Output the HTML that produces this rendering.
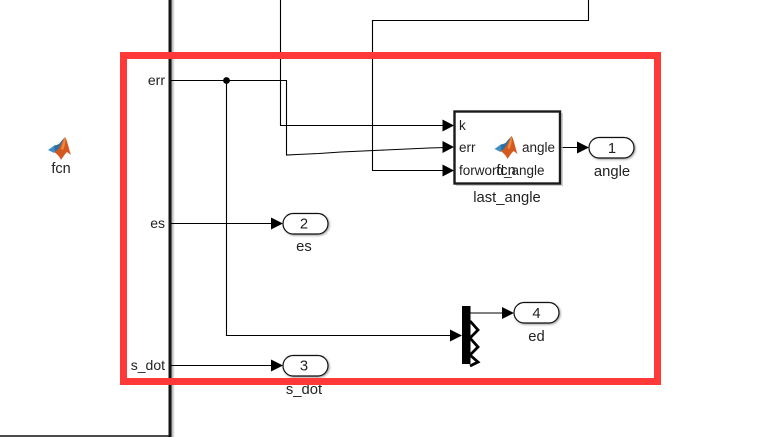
<!DOCTYPE html>
<html>
<head>
<meta charset="utf-8">
<style>
html,body{margin:0;padding:0;background:#fff;width:775px;height:437px;overflow:hidden}
svg{display:block}
text{font-family:"Liberation Sans",sans-serif;font-size:13.5px;fill:#222}
</style>
</head>
<body>
<svg width="775" height="437" viewBox="0 0 775 437" xmlns="http://www.w3.org/2000/svg">
<defs>
<linearGradient id="s" x1="0" x2="1" y1="0" y2="0"><stop offset="0" stop-color="#aaa"/><stop offset="1" stop-color="#eee"/></linearGradient>
<g id="logo">
<path d="M-12,1 L-5,-4 L-2,-2 L-6,4 Z" fill="#3f8fc4"/>
<path d="M-6,-3 L-1,-5 L4,-11 L0,2 L-5,3 Z" fill="#2a6fa8"/>
<path d="M5,-12 C7,-10 9,1 11,6 L7,3 C5,5 3,8 1,11 C0,8 -3,5 -6,3 C-1,2 2,-8 5,-12 Z" fill="#d4591f"/>
<path d="M5,-12 C6,-9 5,-3 3,1 L1,0 C2,-4 3,-8 5,-12Z" fill="#ec8a3c"/>
</g>
</defs>
<rect width="775" height="437" fill="#fff"/>

<!-- left block -->
<rect x="171.500" y="0" width="3" height="437" fill="url(#s)"/>
<rect x="168.500" y="0" width="3" height="437" fill="#151515"/>
<path d="M0,436 H171" stroke="#111" stroke-width="1.6" fill="none"/>

<!-- wires -->
<g fill="none" stroke="#000" stroke-width="1.1">
<path d="M171,80.500 H286.500 V155 L297,154.500 L319,153.500 L341,152 L363,151 L385,150 L407,149 L429,148 L446,147.500"/>
<path d="M226.500,80.500 V335.500 H453"/>
<path d="M280.500,0 V125.500 H446"/>
<path d="M588.500,0 V20.500 H372.500 V170.500 H446"/>
<path d="M171,223.500 H275"/>
<path d="M171,365.500 H275"/>
<path d="M561,147.500 H581"/>
<path d="M470,313 H506"/>
</g>
<circle cx="226.500" cy="80.500" r="3.400" fill="#000"/>

<!-- arrowheads -->
<g fill="#000">
<path d="M442.500,119.500 L454,125.500 L442.500,131.500 Z"/>
<path d="M442.500,141 L454,147 L442.500,153 Z"/>
<path d="M442.500,164.500 L454,170.500 L442.500,176.500 Z"/>
<path d="M577,141.500 L589,147.500 L577,153.500 Z"/>
<path d="M271,217.500 L283,223.500 L271,229.500 Z"/>
<path d="M271,359.500 L283,365.500 L271,371.500 Z"/>
<path d="M450,329.500 L462,335.500 L450,341.500 Z"/>
<path d="M502,307 L514,313 L502,319 Z"/>
</g>

<!-- last_angle block -->
<rect x="456" y="113" width="107" height="73" fill="#bbb" opacity=".7"/>
<rect x="454.500" y="111.500" width="105.500" height="72" fill="#fff" stroke="#1a1a1a" stroke-width="2.400"/>
<use href="#logo" transform="translate(506.500,148)"/>
<text x="459" y="130">k</text>
<text x="459" y="152">err</text>
<text x="459" y="175">forword_angle</text>
<text x="555" y="152" text-anchor="end">angle</text>
<text x="506" y="175" text-anchor="middle" style="font-size:14.500px">fcn</text>
<text x="507" y="202" text-anchor="middle" style="font-size:14.800px">last_angle</text>

<!-- outports -->
<g fill="#fff" stroke="#111" stroke-width="1.200">
<rect x="589" y="137.500" width="45" height="20.500" rx="10.200" style="filter:drop-shadow(1.500px 1.500px 1px #999)"/>
<rect x="283" y="213.500" width="45" height="20.500" rx="10.200" style="filter:drop-shadow(1.500px 1.500px 1px #999)"/>
<rect x="283" y="355.500" width="45" height="20.500" rx="10.200" style="filter:drop-shadow(1.500px 1.500px 1px #999)"/>
<rect x="514" y="302.500" width="45" height="20.500" rx="10.200" style="filter:drop-shadow(1.500px 1.500px 1px #999)"/>
</g>
<g text-anchor="middle">
<text x="612" y="153" style="font-size:14.800px">1</text>
<text x="612" y="176" style="font-size:14.800px">angle</text>
<text x="304" y="228.500" style="font-size:14.800px">2</text>
<text x="304" y="251" style="font-size:14.800px">es</text>
<text x="304" y="370.500" style="font-size:14.800px">3</text>
<text x="304" y="394" style="font-size:14.800px">s_dot</text>
<text x="536.500" y="318" style="font-size:14.800px">4</text>
<text x="536.500" y="341" style="font-size:14.800px">ed</text>
</g>

<!-- mux -->
<rect x="462" y="306" width="8.500" height="58" fill="#000"/>
<path d="M470,321 L478,330 L470,338 L478,347 L470,355 L478,362 L470,366" fill="none" stroke="#000" stroke-width="2.800"/>

<!-- inport labels -->
<g text-anchor="end">
<text x="165" y="85" style="font-size:14px">err</text>
<text x="165" y="228" style="font-size:14px">es</text>
<text x="165" y="370" style="font-size:14px">s_dot</text>
</g>

<!-- left fcn -->
<use href="#logo" transform="translate(60,149)"/>
<text x="61" y="173" text-anchor="middle" style="font-size:14.500px">fcn</text>

<!-- red highlight -->
<rect x="123.500" y="55.500" width="534" height="326" fill="none" stroke="#ff3838" stroke-width="7"/>
</svg>
</body>
</html>
